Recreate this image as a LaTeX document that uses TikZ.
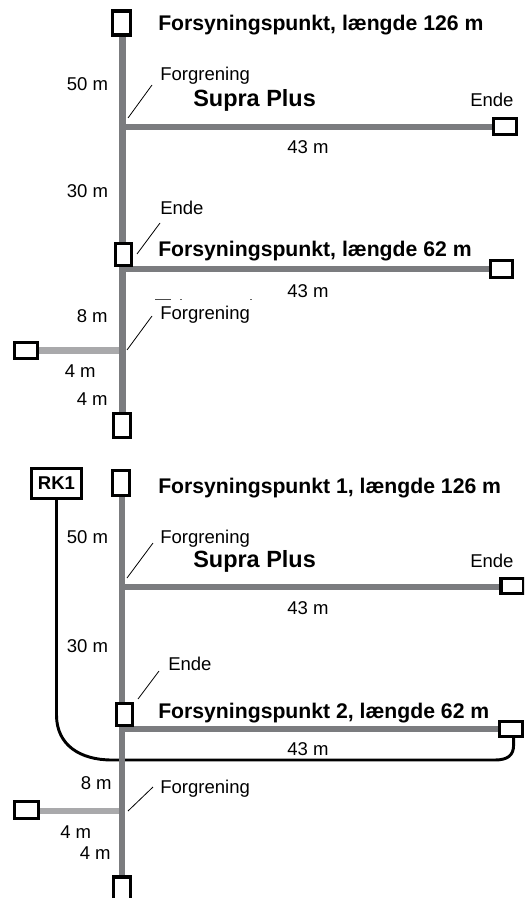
\documentclass[tikz,border=0pt]{standalone}
\usepackage{fontspec}
\setmainfont{Liberation Sans}
\definecolor{pipe}{HTML}{7B7C7F}
\definecolor{branch}{HTML}{A9A9AB}
\pgfdeclarelayer{back}
\pgfsetlayers{back,main}
\tikzset{
  pipeline/.style={draw=pipe,line width=5pt},
  branchline/.style={draw=branch,line width=4.8pt},
  leader/.style={draw=black,line width=0.6pt},
  cable/.style={draw=black,line width=2.2pt},
  endbox/.style={draw=black,fill=white,line width=2.3pt,inner sep=0pt,outer sep=0pt,rectangle},
  vbox/.style={endbox,minimum width=13pt,minimum height=18pt},
  hbox/.style={endbox,minimum width=17.25pt,minimum height=12.5pt},
  small/.style={font=\fontsize{13.9pt}{15pt}\selectfont,inner sep=0pt,anchor=base west},
  title/.style={font=\fontsize{15.9pt}{17pt}\selectfont\bfseries,inner sep=0pt,anchor=base west},
  brand/.style={font=\fontsize{17.6pt}{20pt}\selectfont\bfseries,inner sep=0pt,anchor=base west},
  rk/.style={endbox,font=\fontsize{13.9pt}{15pt}\selectfont\bfseries,minimum width=38pt,minimum height=22.5pt},
}
\begin{document}
\begin{tikzpicture}[x=0.75pt,y=-0.75pt]
\useasboundingbox (0,0) rectangle (524,898);
\clip (0,0) rectangle (524,898);
% upper diagram
\node[vbox,minimum width=13.5pt] (a1) at (121.5,23) {};
\node[vbox,minimum width=12pt,minimum height=16.5pt] (a2) at (123.5,254.5) {};
\node[vbox] (a3) at (122,425.5) {};
\node[hbox,minimum height=12pt] (a4) at (505,126.5) {};
\node[hbox,minimum width=16.5pt] (a5) at (501.5,269) {};
\node[hbox] (a6) at (26,350.5) {};
\coordinate (a1p) at (122.5,30);
\coordinate (a3p) at (122.5,420);
\coordinate (a7) at (122.5,127);
\coordinate (a8) at (122.5,269);
\coordinate (a9) at (122.5,350.5);
\begin{pgfonlayer}{back}
\draw[branchline] (a9) -- (a9 -| a6);
\draw[pipeline] (a7) -- (a7 -| a4);
\draw[pipeline] (a8) -- (a8 -| a5);
\draw[pipeline] (a1p) -- (a3p);
\end{pgfonlayer}
\node[title] (t1) at (158,31) {Forsyningspunkt, længde 126 m};
\node[title] (t2) at (158,257) {Forsyningspunkt, længde 62 m};
\node[brand] (b1) at (193,107) {Supra Plus};
\node[small] (f1) at (160,81) {Forgrening};
\node[small] (f2) at (160,319) {Forgrening};
\node[small] (e1) at (160,215) {Ende};
\node[small] (e2) at (470,107) {Ende};
\node[small] (m1) at (66.5,91) {50 m};
\node[small] (m2) at (66.5,198) {30 m};
\node[small] (m3) at (76.5,322) {8 m};
\node[small] (m4) at (64.5,377) {4 m};
\node[small] (m5) at (76.5,405) {4 m};
\node[small] (m6) at (287,154) {43 m};
\node[small] (m7) at (287,297) {43 m};
\coordinate (l1a) at (128,118);
\coordinate (l1b) at (152,85);
\coordinate (l2a) at (137,254);
\coordinate (l2b) at (160,223);
\coordinate (l3a) at (127,350);
\coordinate (l3b) at (152,316);
\draw[leader] (l1a) -- (l1b);
\draw[leader] (l2a) -- (l2b);
\draw[leader] (l3a) -- (l3b);
% clipped remnants
\fill[black!70] (155,298.5) rectangle (171,299.5);
\fill[black!60] (180,298.5) rectangle (181.5,299.5);
\fill[black!60] (250,298.5) rectangle (251.5,299.5);
% lower diagram
\node[vbox,minimum width=12.75pt,minimum height=18.75pt] (c1) at (121,483) {};
\node[vbox,minimum width=12pt,minimum height=16.5pt] (c2) at (124.5,714.5) {};
\node[vbox,minimum width=12.75pt,minimum height=18.75pt] (c3) at (122,889.5) {};
\node[hbox,minimum height=11.5pt] (c4) at (512.5,586) {};
\node[hbox,minimum height=11.5pt] (c5) at (511,729) {};
\node[hbox,minimum width=18pt] (c6) at (26.5,810) {};
\node[rk] (rk) at (56.5,483.5) {RK1};
\coordinate (c1p) at (122,490);
\coordinate (c3p) at (122,885);
\coordinate (c7) at (122,587);
\coordinate (c8) at (122,729);
\coordinate (c9) at (122,811);
\coordinate (cabend) at (513.6,735);
\begin{pgfonlayer}{back}
\draw[cable] (rk.south) -- (56.5,715) .. controls (56.5,745) and (80,760) .. (112,760) -- (495,760) .. controls (508,760) and (513.6,755) .. (513.6,745) -- (cabend);
\draw[branchline] (c9) -- (c9 -| c6);
\draw[pipeline] (c7) -- (c7 -| c4);
\draw[pipeline] (c8) -- (c8 -| c5);
\draw[pipeline] (c1p) -- (c3p);
\end{pgfonlayer}
\node[title] (t3) at (158,493) {Forsyningspunkt 1, længde 126 m};
\node[title] (t4) at (158,718.5) {Forsyningspunkt 2, længde 62 m};
\node[brand] (b2) at (193,567) {Supra Plus};
\node[small] (f3) at (160,543) {Forgrening};
\node[small] (f4) at (160,793) {Forgrening};
\node[small] (e3) at (168,670) {Ende};
\node[small] (e4) at (470,567) {Ende};
\node[small] (n1) at (66.5,543) {50 m};
\node[small] (n2) at (66.5,652) {30 m};
\node[small] (n3) at (80.5,789) {8 m};
\node[small] (n4) at (60,838) {4 m};
\node[small] (n5) at (79.5,859) {4 m};
\node[small] (n6) at (287,614) {43 m};
\node[small] (n7) at (287,755) {43 m};
\coordinate (l4a) at (127,578);
\coordinate (l4b) at (153,543);
\coordinate (l5a) at (138,699);
\coordinate (l5b) at (159,671);
\coordinate (l6a) at (128,811);
\coordinate (l6b) at (153,787);
\draw[leader] (l4a) -- (l4b);
\draw[leader] (l5a) -- (l5b);
\draw[leader] (l6a) -- (l6b);
\end{tikzpicture}
\end{document}
